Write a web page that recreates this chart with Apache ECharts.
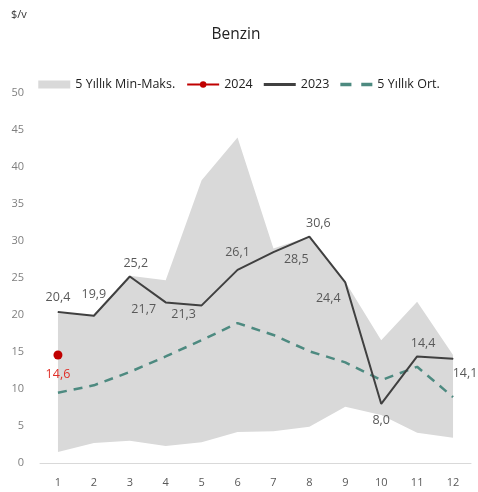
<!DOCTYPE html>
<html>
<head>
    <meta charset="utf-8">
    <title>Benzin</title>
    <script src="https://cdn.jsdelivr.net/npm/echarts@6/dist/echarts.min.js"></script>
    <style>
        html, body { margin: 0; padding: 0; background: #fff; }
        #chart { width: 478px; height: 492px; }
    </style>
</head>
<body>
<div id="chart"></div>
<script>
    // veriler
    var months = ['1', '2', '3', '4', '5', '6', '7', '8', '9', '10', '11', '12'];
    var minVals = [1.5, 2.7, 3.0, 2.3, 2.8, 4.2, 4.3, 4.9, 7.6, 6.5, 4.1, 3.4];
    var maxVals = [20.2, 20.0, 25.3, 24.7, 38.2, 44.0, 29.0, 30.6, 24.5, 16.6, 21.8, 14.6];
    var y2024 = [14.6, null, null, null, null, null, null, null, null, null, null, null];
    var y2023 = [20.4, 19.9, 25.2, 21.7, 21.3, 26.1, 28.5, 30.6, 24.4, 8.0, 14.4, 14.1];
    var avg5 = [9.5, 10.5, 12.3, 14.4, 16.6, 18.9, 17.3, 15.1, 13.6, 11.2, 13.0, 8.9];

    var bandDiff = maxVals.map(function (v, i) { return +(v - minVals[i]).toFixed(2); });

    // 2023 etiketlerinin yerleşimi
    var labelCfg = [
        { position: 'top', distance: 8 },
        { position: 'top', distance: 14 },
        { position: 'top', distance: 6, offset: [6, 0] },
        { position: 'bottom', distance: 0, offset: [-22, 0] },
        { position: 'bottom', distance: 2, offset: [-18, 0] },
        { position: 'top', distance: 10 },
        { position: 'right', distance: 10, offset: [0, 7] },
        { position: 'top', distance: 6, offset: [9, 0] },
        { position: 'bottom', distance: 9, offset: [-17, 0] },
        { position: 'bottom', distance: 10 },
        { position: 'top', distance: 6, offset: [6, 0] },
        { position: 'bottom', distance: 8, offset: [12, 0] }
    ];

    function fmt(v) {
        return v.toFixed(1).replace('.', ',');
    }

    var chart = echarts.init(document.getElementById('chart'));

    var option = {
        animation: false,
        textStyle: { fontFamily: 'Open Sans, Noto Sans, sans-serif' },
        title: [
            {
                text: 'Benzin',
                left: 231, top: 22,
                textAlign: 'center',
                textStyle: { fontSize: 15.5, fontWeight: 'normal', color: '#222' }
            },
            {
                text: '$/v',
                left: 6, top: 4,
                textStyle: { fontSize: 11, fontWeight: 'normal', color: '#333' }
            }
        ],
        legend: {
            top: 73,
            left: 'center',
            itemGap: 11,
            itemWidth: 32,
            itemHeight: 8,
            textStyle: { fontSize: 12.5, color: '#222' },
            data: [
                { name: '5 Yıllık Min-Maks.', icon: 'rect' },
                { name: '2024' },
                { name: '2023', icon: 'path://M0,0 L32,0 L32,3 L0,3 Z' },
                { name: '5 Yıllık Ort.', icon: 'path://M0,0 L9,0 L9,3 L0,3 Z M17,0 L26,0 L26,3 L17,3 Z' }
            ]
        },
        grid: { left: 40, right: 7, top: 93, bottom: 29 },
        xAxis: {
            type: 'category',
            data: months,
            axisLine: { lineStyle: { color: '#d9d9d9' } },
            axisTick: { show: false },
            axisLabel: { color: '#595959', fontSize: 11, margin: 14 }
        },
        yAxis: {
            type: 'value',
            min: 0, max: 50, interval: 5,
            splitLine: { show: false },
            axisLine: { show: false },
            axisTick: { show: false },
            axisLabel: { color: '#7f7f7f', fontSize: 11, margin: 16 }
        },
        series: [
            {
                name: 'band-min',
                type: 'line',
                stack: 'band',
                data: minVals,
                symbol: 'none',
                lineStyle: { opacity: 0 },
                areaStyle: { opacity: 0 },
                silent: true
            },
            {
                name: '5 Yıllık Min-Maks.',
                type: 'line',
                stack: 'band',
                data: bandDiff,
                symbol: 'none',
                itemStyle: { color: '#d9d9d9' },
                lineStyle: { opacity: 0 },
                areaStyle: { color: '#d9d9d9', opacity: 1 }
            },
            {
                name: '5 Yıllık Ort.',
                type: 'line',
                data: avg5,
                symbol: 'none',
                itemStyle: { color: '#4d8a80' },
                lineStyle: { color: '#4d8a80', width: 2.5, type: [9, 7] }
            },
            {
                name: '2023',
                type: 'line',
                data: y2023.map(function (v, i) {
                    return { value: v, label: labelCfg[i] };
                }),
                symbol: 'circle',
                symbolSize: 1,
                showSymbol: true,
                itemStyle: { color: '#404040' },
                lineStyle: { color: '#404040', width: 2 },
                label: {
                    show: true,
                    color: '#595959',
                    fontSize: 12.5,
                    formatter: function (p) { return fmt(p.value); }
                }
            },
            {
                name: '2024',
                type: 'line',
                data: y2024,
                symbol: 'circle',
                symbolSize: 9,
                showSymbol: true,
                itemStyle: { color: '#c00000' },
                lineStyle: { color: '#c00000', width: 3 },
                label: {
                    show: true,
                    position: 'bottom',
                    distance: 8,
                    color: '#e0302a',
                    fontSize: 12.5,
                    formatter: function (p) { return fmt(p.value); }
                }
            }
        ]
    };

    chart.setOption(option);

    window.onresize = function () {
        chart.resize();
    };
</script>
</body>
</html>
